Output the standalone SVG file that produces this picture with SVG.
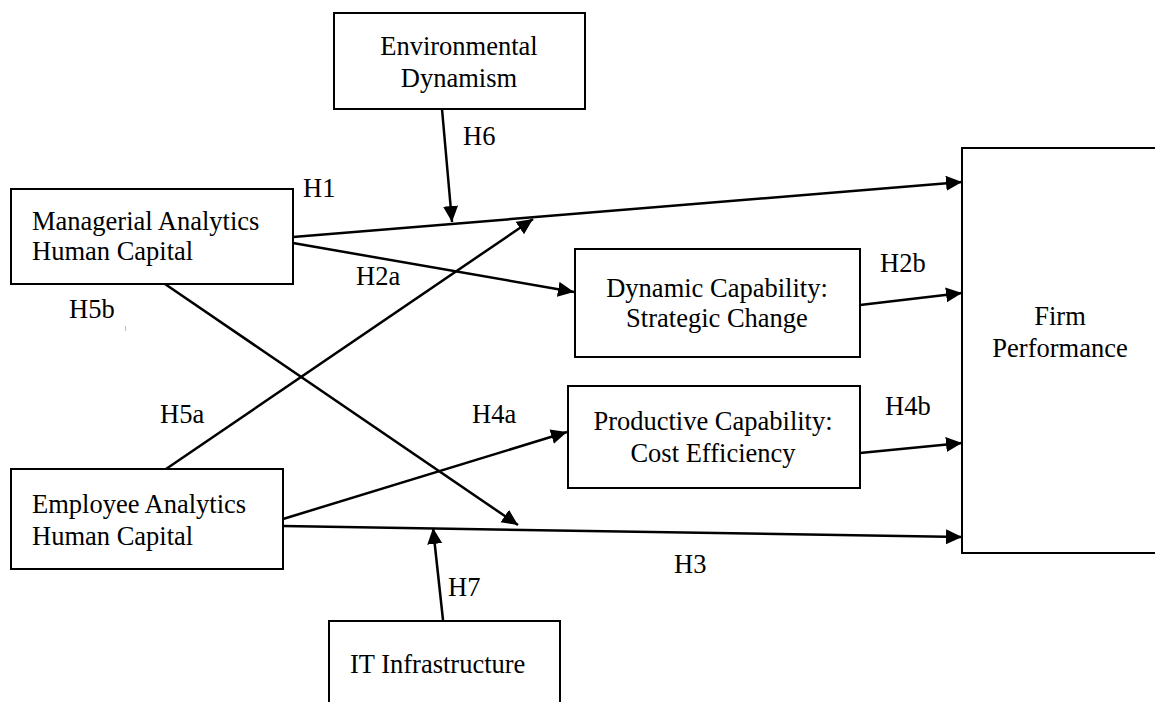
<svg xmlns="http://www.w3.org/2000/svg" width="1155" height="702" viewBox="0 0 1155 702">
<style>
.box{fill:#fff;stroke:#000;stroke-width:2}
.t{font-family:'Liberation Serif','Times New Roman','DejaVu Serif',serif;font-size:26.5px;fill:#000}
.c{text-anchor:middle}
.ln{stroke:#000;stroke-width:2.5;fill:none;marker-end:url(#ah)}
</style>
<defs>
<marker id="ah" markerUnits="userSpaceOnUse" markerWidth="17" markerHeight="16" refX="16" refY="7.5" orient="auto">
<path d="M0,0 L16,7.5 L0,15 z" fill="#000"/>
</marker>
</defs>
<rect width="1155" height="702" fill="#fff"/>
<g id="connectors">
<line class="ln" x1="293" y1="237" x2="962" y2="182"/>
<line class="ln" x1="293" y1="243" x2="574" y2="292"/>
<line class="ln" x1="860" y1="305" x2="962" y2="293"/>
<line class="ln" x1="860" y1="453" x2="962" y2="443"/>
<line class="ln" x1="283" y1="519" x2="567" y2="432"/>
<line class="ln" x1="283" y1="526" x2="962" y2="537"/>
<line class="ln" x1="166" y1="469" x2="533" y2="219"/>
<line class="ln" x1="165" y1="284" x2="518" y2="525"/>
<line class="ln" x1="442" y1="109" x2="452" y2="222"/>
<line class="ln" x1="443" y1="620" x2="433" y2="528"/>
</g>
<g id="labels">
<text class="t" x="303" y="197">H1</text>
<text class="t" x="463" y="145">H6</text>
<text class="t" x="356" y="285">H2a</text>
<text class="t" x="880" y="272">H2b</text>
<text class="t" x="69" y="318">H5b</text>
<text class="t" x="160" y="423">H5a</text>
<text class="t" x="472" y="423">H4a</text>
<text class="t" x="885" y="415">H4b</text>
<text class="t" x="674" y="573">H3</text>
<text class="t" x="448" y="596">H7</text>
<rect x="125" y="326" width="1" height="5" fill="#bbb"/>
</g>
<g id="environmental">
<rect class="box" x="334" y="13" width="251" height="96"/>
<text class="t c" x="459" y="55">Environmental</text>
<text class="t c" x="459" y="87">Dynamism</text>
</g>
<g id="managerial">
<rect class="box" x="11" y="189" width="282" height="95"/>
<text class="t" x="32" y="230">Managerial Analytics</text>
<text class="t" x="32" y="260">Human Capital</text>
</g>
<g id="dynamic">
<rect class="box" x="575" y="249" width="285" height="108"/>
<text class="t c" x="717" y="297">Dynamic Capability:</text>
<text class="t c" x="717" y="327">Strategic Change</text>
</g>
<g id="productive">
<rect class="box" x="568" y="386" width="292" height="102"/>
<text class="t c" x="713" y="430">Productive Capability:</text>
<text class="t c" x="713" y="462">Cost Efficiency</text>
</g>
<g id="employee">
<rect class="box" x="11" y="469" width="272" height="100"/>
<text class="t" x="32" y="513">Employee Analytics</text>
<text class="t" x="32" y="545">Human Capital</text>
</g>
<g id="firm">
<rect class="box" x="962" y="148" width="260" height="405"/>
<text class="t c" x="1060" y="325">Firm</text>
<text class="t c" x="1060" y="357">Performance</text>
</g>
<g id="it">
<rect class="box" x="329" y="621" width="231" height="120"/>
<text class="t" x="350" y="673">IT Infrastructure</text>
</g>
</svg>
